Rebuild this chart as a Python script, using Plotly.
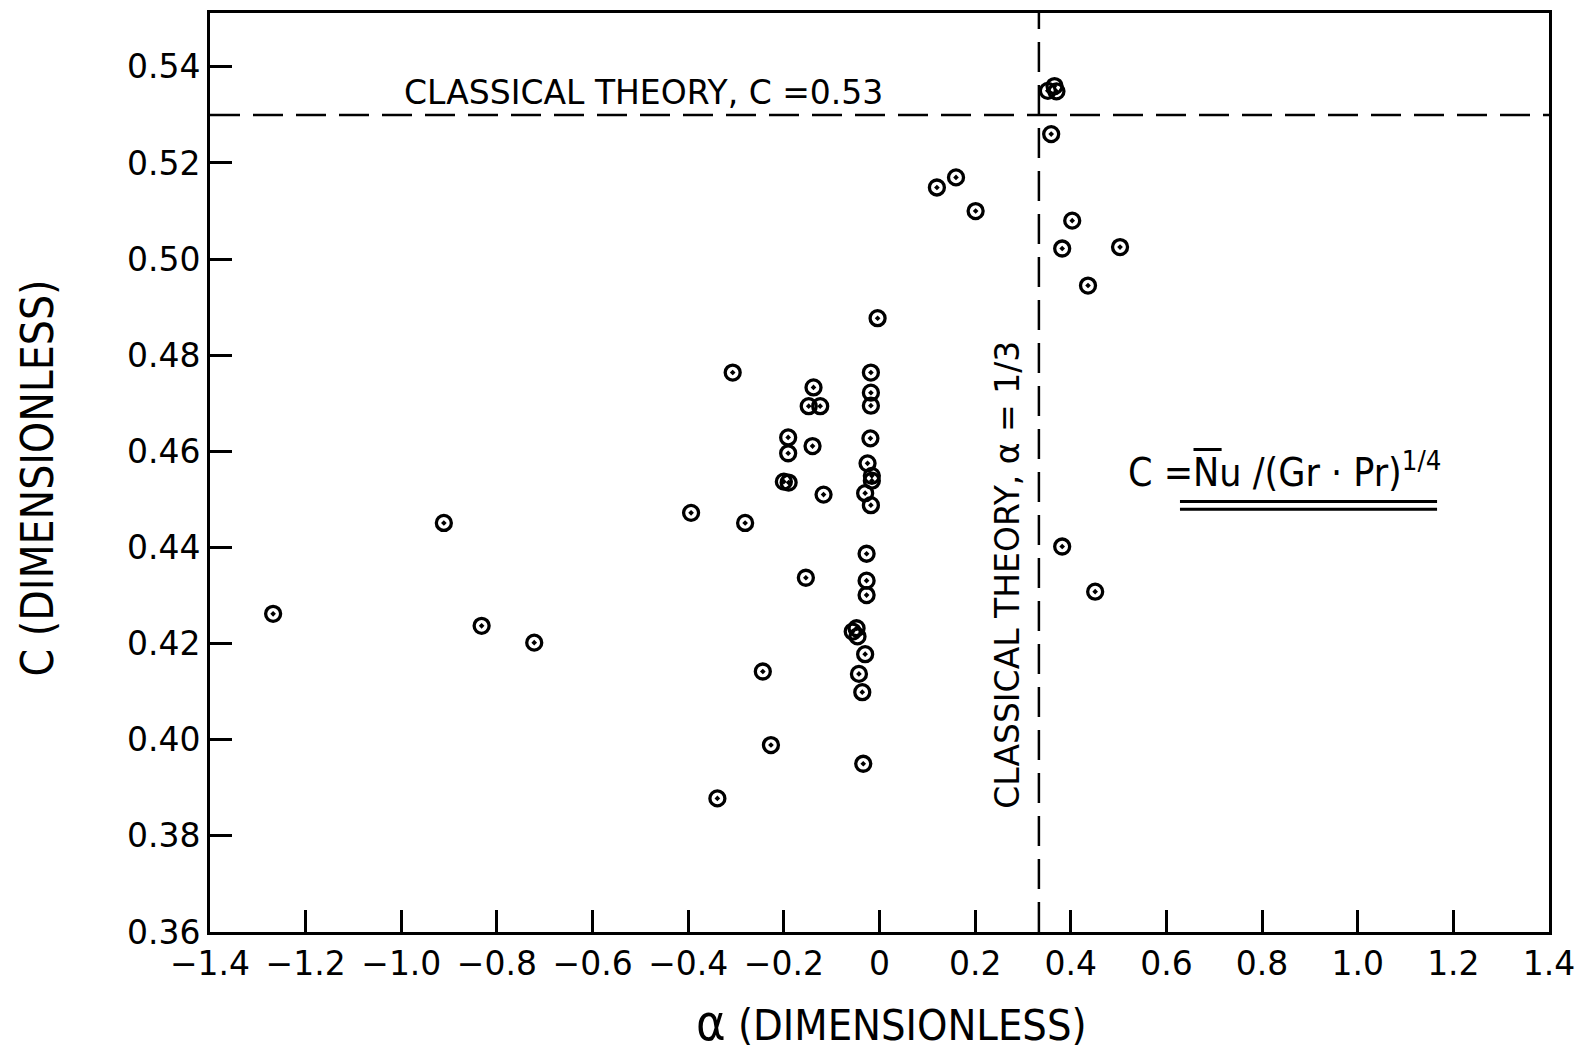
import plotly.graph_objects as go

# ---- data ----
alpha = [-1.268, -0.911, -0.832, -0.722, -0.394, -0.307, -0.281, -0.339, -0.244, -0.227,
         -0.191, -0.191, -0.200, -0.190, -0.138, -0.148, -0.124, -0.140, -0.117, -0.154,
         -0.018, -0.018, -0.018, -0.019, -0.025, -0.016, -0.016, -0.030, -0.018, -0.027,
         -0.027, -0.027, -0.056, -0.048, -0.046, -0.030, -0.043, -0.036, -0.034, -0.004,
         0.120, 0.160, 0.201, 0.352, 0.366, 0.370, 0.359, 0.403, 0.382, 0.503,
         0.436, 0.382, 0.451]
C_vals = [0.4262, 0.4451, 0.4237, 0.4202, 0.4472, 0.4764, 0.4451, 0.3878, 0.4142, 0.3989,
          0.4629, 0.4596, 0.4537, 0.4535, 0.4733, 0.4694, 0.4694, 0.4611, 0.4510, 0.4337,
          0.4764, 0.4722, 0.4695, 0.4627, 0.4575, 0.4549, 0.4539, 0.4513, 0.4488, 0.4387,
          0.4331, 0.4301, 0.4225, 0.4232, 0.4215, 0.4178, 0.4137, 0.4099, 0.3950, 0.4877,
          0.5149, 0.5170, 0.5100, 0.5350, 0.5360, 0.5349, 0.5260, 0.5080, 0.5022, 0.5025,
          0.4945, 0.4402, 0.4308]

classical_C = 0.53
classical_alpha = 1.0 / 3.0

x_range = [-1.4, 1.4]
y_range = [0.36, 0.5512]

x_tickvals = [-1.4, -1.2, -1.0, -0.8, -0.6, -0.4, -0.2, 0, 0.2, 0.4, 0.6, 0.8, 1.0, 1.2, 1.4]
x_ticktext = ["\u22121.4", "\u22121.2", "\u22121.0", "\u22120.8", "\u22120.6", "\u22120.4", "\u22120.2",
              "0", "0.2", "0.4", "0.6", "0.8", "1.0", "1.2", "1.4"]
y_tickvals = [0.36, 0.38, 0.40, 0.42, 0.44, 0.46, 0.48, 0.50, 0.52, 0.54]
y_ticktext = ["0.36", "0.38", "0.40", "0.42", "0.44", "0.46", "0.48", "0.50", "0.52", "0.54"]

FONT = "DejaVu Sans, Liberation Sans, sans-serif"
COND = "DejaVu Sans Condensed, Liberation Sans Narrow, Roboto Condensed, DejaVu Sans, sans-serif"

fig = go.Figure()

# reference lines (classical theory)
fig.add_trace(go.Scatter(x=x_range, y=[classical_C, classical_C], mode="lines",
                         line=dict(color="black", width=2.5, dash="30px,13px"),
                         hoverinfo="skip", showlegend=False))
fig.add_trace(go.Scatter(x=[classical_alpha, classical_alpha], y=y_range, mode="lines",
                         line=dict(color="black", width=2.5, dash="30px,13px"),
                         hoverinfo="skip", showlegend=False))

# data points
fig.add_trace(go.Scatter(x=alpha, y=C_vals, mode="markers",
                         marker=dict(symbol="circle-open-dot", size=15, color="black",
                                     line=dict(color="black", width=3.3)),
                         showlegend=False))

axis_common = dict(showline=True, linewidth=3, linecolor="black", mirror=True,
                   ticks="inside", ticklen=22, tickwidth=2.5, tickcolor="black",
                   showgrid=False, zeroline=False,
                   tickfont=dict(family=FONT, size=33, color="black"))

fig.update_xaxes(range=x_range, tickvals=x_tickvals, ticktext=x_ticktext, **axis_common)
fig.update_yaxes(range=y_range, tickvals=y_tickvals, ticktext=y_ticktext, **axis_common)

annotations = [
    dict(text="CLASSICAL THEORY, C =0.53", xref="paper", yref="paper", x=0.3241, y=0.913,
         xanchor="center", yanchor="middle", showarrow=False,
         font=dict(family=FONT, size=33, color="black")),
    dict(text="CLASSICAL THEORY, \u03b1 = 1/3", xref="paper", yref="paper", x=0.5957, y=0.3883,
         xanchor="center", yanchor="middle", showarrow=False, textangle=-90,
         font=dict(family=FONT, size=33, color="black")),
    dict(text="C =Nu /(Gr \u00b7 Pr)<sup>1/4</sup>", xref="paper", yref="paper", x=0.6841, y=0.503,
         xanchor="left", yanchor="middle", showarrow=False,
         font=dict(family=COND, size=39, color="black")),
    dict(text="C (DIMENSIONLESS)", xref="paper", yref="paper", x=-0.1285, y=0.4946,
         xanchor="center", yanchor="middle", showarrow=False, textangle=-90,
         font=dict(family=COND, size=44, color="black")),
    dict(text="<span style='font-size:50px'>\u03b1</span> (DIMENSIONLESS)", xref="paper", yref="paper",
         x=0.5086, y=-0.1325, xanchor="center", yanchor="bottom", showarrow=False,
         font=dict(family=COND, size=43, color="black")),
]

shapes = [
    dict(type="line", xref="paper", yref="paper", x0=0.7244, x1=0.9164, y0=0.4685, y1=0.4685,
         line=dict(color="black", width=3)),
    dict(type="line", xref="paper", yref="paper", x0=0.7244, x1=0.9164, y0=0.4599, y1=0.4599,
         line=dict(color="black", width=3)),
    dict(type="line", xref="paper", yref="paper", x0=0.7345, x1=0.7555, y0=0.5250, y1=0.5250,
         line=dict(color="black", width=3)),
]

fig.update_layout(width=1587, height=1053, autosize=False,
                  margin=dict(l=210, r=38, t=10, b=121),
                  plot_bgcolor="white", paper_bgcolor="white",
                  annotations=annotations, shapes=shapes, showlegend=False)

fig.write_html("out.html")
